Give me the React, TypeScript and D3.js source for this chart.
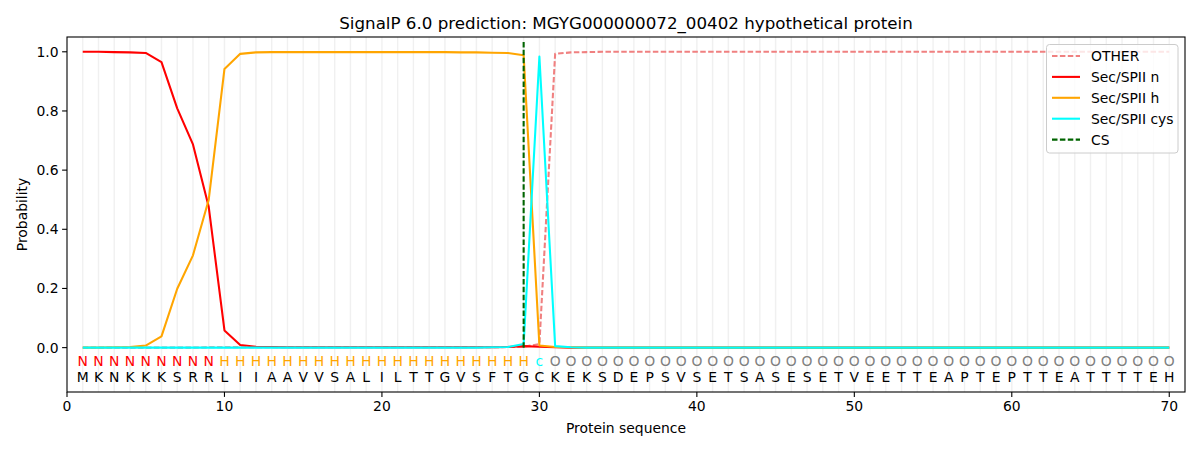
import * as d3 from 'd3'

const sequence = 'MKNKKKSRRLIIAAVVSALILTTGVSFTGCKEKSDEPSVSETSASESETVEETTEAPTEPTTEATTTTEH'.split('')
const annotation = 'NNNNNNNNNHHHHHHHHHHHHHHHHHHHHcOOOOOOOOOOOOOOOOOOOOOOOOOOOOOOOOOOOOOOOO'.split('')

const otherProb = [
  0, 0, 0, 0, 0, 0, 0, 0, 0.001, 0.001,
  0.001, 0.001, 0.001, 0.001, 0.001, 0.001, 0.001, 0.001, 0.001, 0.001,
  0.001, 0.001, 0.001, 0.001, 0.001, 0.001, 0.001, 0.002, 0.003, 0.012,
  0.993, 0.998, 0.999, 1, 1, 1, 1, 1, 1, 1,
  1, 1, 1, 1, 1, 1, 1, 1, 1, 1,
  1, 1, 1, 1, 1, 1, 1, 1, 1, 1,
  1, 1, 1, 1, 1, 1, 1, 1, 1, 1,
]
const nProb = [
  1.0, 1.0, 0.999, 0.998, 0.996, 0.965, 0.809, 0.687, 0.476, 0.058,
  0.009, 0.003, 0.002, 0.001, 0.001, 0.001, 0.001, 0.001, 0.001, 0.001,
  0.001, 0.001, 0.001, 0.001, 0.001, 0.001, 0.001, 0.002, 0.005, 0.003,
  0.001, 0, 0, 0, 0, 0, 0, 0, 0, 0,
  0, 0, 0, 0, 0, 0, 0, 0, 0, 0,
  0, 0, 0, 0, 0, 0, 0, 0, 0, 0,
  0, 0, 0, 0, 0, 0, 0, 0, 0, 0,
]
const hProb = [
  0, 0, 0.001, 0.002, 0.007, 0.038, 0.199, 0.312, 0.5, 0.942,
  0.993, 0.998, 0.999, 0.999, 0.999, 0.999, 0.999, 0.999, 0.999, 0.999,
  0.999, 0.999, 0.999, 0.999, 0.998, 0.998, 0.997, 0.996, 0.988, 0.007,
  0.002, 0.001, 0, 0, 0, 0, 0, 0, 0, 0,
  0, 0, 0, 0, 0, 0, 0, 0, 0, 0,
  0, 0, 0, 0, 0, 0, 0, 0, 0, 0,
  0, 0, 0, 0, 0, 0, 0, 0, 0, 0,
]
const cysProb = [
  0, 0, 0, 0, 0, 0, 0, 0, 0, 0,
  0, 0, 0, 0, 0, 0, 0, 0, 0, 0,
  0, 0, 0, 0, 0, 0, 0.001, 0.002, 0.012, 0.984,
  0.005, 0.001, 0, 0, 0, 0, 0, 0, 0, 0,
  0, 0, 0, 0, 0, 0, 0, 0, 0, 0,
  0, 0, 0, 0, 0, 0, 0, 0, 0, 0,
  0, 0, 0, 0, 0, 0, 0, 0, 0, 0,
]
const csPosition = 29
const csTop = 1.035

const xTicks = [0, 10, 20, 30, 40, 50, 60, 70]
const yTicks = [0, 0.2, 0.4, 0.6, 0.8, 1.0]

const series = [
  { name: 'OTHER', values: otherProb, color: '#f08080', dash: '5.5,2.4' },
  { name: 'Sec/SPII n', values: nProb, color: '#ff0000', dash: '' },
  { name: 'Sec/SPII h', values: hProb, color: '#ffa500', dash: '' },
  { name: 'Sec/SPII cys', values: cysProb, color: '#00ffff', dash: '' },
]

const labelColor: Record<string, string> = { N: '#ff0000', H: '#ffa500', c: '#00ffff', O: '#808080' }

export default function App() {
  const width = 1200
  const height = 450
  const margin = { top: 37, right: 15, bottom: 58, left: 67 }
  const plotW = width - margin.left - margin.right
  const plotH = height - margin.top - margin.bottom

  const x = d3.scaleLinear().domain([0, 71]).range([margin.left, margin.left + plotW])
  const y = d3.scaleLinear().domain([-0.15, 1.05]).range([margin.top + plotH, margin.top])

  const line = d3
    .line<number>()
    .x((_, i) => x(i + 1))
    .y(d => y(d))

  const font = 'DejaVu Sans, sans-serif'
  const fs = 13.9

  const legendItems = [
    ...series.map(s => ({ name: s.name, color: s.color, dash: s.dash })),
    { name: 'CS', color: '#006400', dash: '5.5,2.4' },
  ]

  return (
    <svg
      width={width}
      height={height}
      style={{ position: 'absolute', left: 0, top: 0, background: '#fff' }}
      fontFamily={font}
    >
      <rect x={0} y={0} width={width} height={height} fill="#fff" />

      {/* per-residue vertical grid */}
      {sequence.map((_, i) => (
        <line
          key={'g' + i}
          x1={x(i + 1)}
          x2={x(i + 1)}
          y1={margin.top}
          y2={margin.top + plotH}
          stroke="#808080"
          strokeOpacity={0.12}
          strokeWidth={1.4}
        />
      ))}

      {series.map(s => (
        <path
          key={s.name}
          d={line(s.values) || ''}
          fill="none"
          stroke={s.color}
          strokeWidth={2.08}
          strokeDasharray={s.dash || undefined}
          strokeLinejoin="round"
        />
      ))}

      <line
        x1={x(csPosition)}
        x2={x(csPosition)}
        y1={y(0)}
        y2={y(csTop)}
        stroke="#006400"
        strokeWidth={2.08}
        strokeDasharray="5.5,2.4"
      />

      {/* residue annotations */}
      {annotation.map((a, i) => (
        <text
          key={'a' + i}
          x={x(i + 1)}
          y={366}
          textAnchor="middle"
          fontSize={fs}
          fill={labelColor[a]}
        >
          {a}
        </text>
      ))}
      {sequence.map((s, i) => (
        <text key={'s' + i} x={x(i + 1)} y={382} textAnchor="middle" fontSize={fs} fill="#000">
          {s}
        </text>
      ))}

      {/* axes frame */}
      <rect
        x={margin.left}
        y={margin.top}
        width={plotW}
        height={plotH}
        fill="none"
        stroke="#000"
        strokeWidth={1.1}
      />

      {xTicks.map(t => (
        <g key={'xt' + t}>
          <line x1={x(t)} x2={x(t)} y1={margin.top + plotH} y2={margin.top + plotH + 4.9} stroke="#000" strokeWidth={1.1} />
          <text x={x(t)} y={margin.top + plotH + 19} textAnchor="middle" fontSize={fs}>
            {t}
          </text>
        </g>
      ))}
      {yTicks.map(t => (
        <g key={'yt' + t}>
          <line x1={margin.left - 4.9} x2={margin.left} y1={y(t)} y2={y(t)} stroke="#000" strokeWidth={1.1} />
          <text x={margin.left - 8.4} y={y(t) + 5} textAnchor="end" fontSize={fs}>
            {t.toFixed(1)}
          </text>
        </g>
      ))}

      <text x={margin.left + plotW / 2} y={433} textAnchor="middle" fontSize={fs}>
        Protein sequence
      </text>
      <text
        transform={`translate(27,${margin.top + plotH / 2}) rotate(-90)`}
        textAnchor="middle"
        fontSize={fs}
      >
        Probability
      </text>
      <text x={margin.left + plotW / 2} y={29} textAnchor="middle" fontSize={16.7}>
        SignalP 6.0 prediction: MGYG000000072_00402 hypothetical protein
      </text>

      {/* legend */}
      <g>
        <rect
          x={1046.5}
          y={44.5}
          width={131.5}
          height={108.5}
          rx={3}
          fill="#fff"
          fillOpacity={0.8}
          stroke="#cccccc"
          strokeWidth={1}
        />
        {legendItems.map((it, i) => {
          const ly = 56 + i * 20.9
          return (
            <g key={'l' + it.name}>
              <line
                x1={1052}
                x2={1080}
                y1={ly}
                y2={ly}
                stroke={it.color}
                strokeWidth={2.08}
                strokeDasharray={it.dash || undefined}
              />
              <text x={1091} y={ly + 5} fontSize={fs}>
                {it.name}
              </text>
            </g>
          )
        })}
      </g>
    </svg>
  )
}
